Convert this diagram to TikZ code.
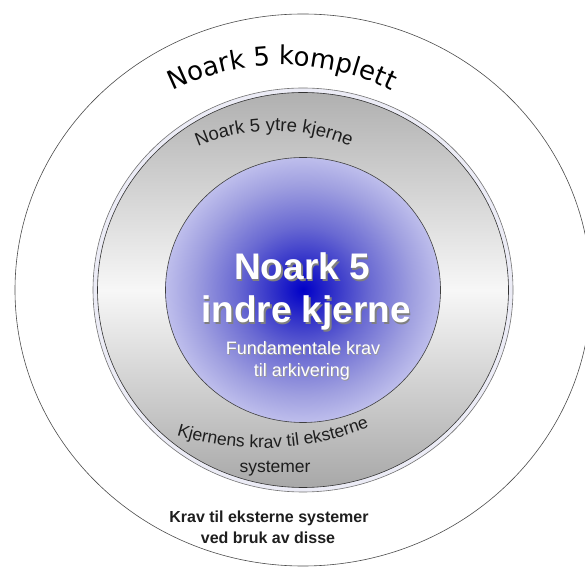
\documentclass[tikz,border=0pt]{standalone}
\usepackage{fontspec}
\setmainfont{Liberation Sans}
\newfontfamily\komfont{DejaVu Sans}
\usetikzlibrary{decorations.text}
\definecolor{bc0}{RGB}{0,0,200}
\definecolor{bc1}{RGB}{45,45,200}
\definecolor{bc2}{RGB}{105,105,210}
\definecolor{bc3}{RGB}{160,160,224}
\definecolor{bc4}{RGB}{190,190,236}
\definecolor{bandcol}{RGB}{236,236,246}
\definecolor{ringtop}{RGB}{176,176,176}
\definecolor{ringmid}{RGB}{247,247,247}
\definecolor{ringbot}{RGB}{168,168,168}
\definecolor{darktxt}{RGB}{30,30,30}
\pgfdeclareradialshading{bluecore}{\pgfpoint{0bp}{0bp}}{color(0bp)=(bc0); color(5bp)=(bc1); color(12bp)=(bc2); color(20bp)=(bc3); color(25bp)=(bc4); color(50bp)=(bc4)}
\tikzset{
  thinline/.style={draw=black!70, line width=0.6pt},
  bigtxt/.style={font=\bfseries\fontsize{37pt}{40pt}\selectfont, text=white, anchor=base, inner sep=0pt},
  bigshadow/.style={bigtxt, text=black!50},
  smalltxt/.style={font=\fontsize{18pt}{20pt}\selectfont, text=white, anchor=base, inner sep=0pt},
  smallshadow/.style={smalltxt, text=black!40},
  ringtxt/.style={font=\fontsize{17.5pt}{20pt}\selectfont, text=darktxt, anchor=base, inner sep=0pt},
  boldtxt/.style={font=\bfseries\fontsize{16pt}{18pt}\selectfont, text=darktxt, anchor=base, inner sep=0pt}
}
\begin{document}
\begin{tikzpicture}[x=1pt,y=1pt]
\fill[white] (0,0) rectangle (585,567);
\useasboundingbox (0,0) rectangle (585,567);
\coordinate (c) at (303,277);
% outer circle
\draw[thinline] (c) ellipse [x radius=288pt, y radius=276pt];
% gray ring with light band
\filldraw[fill=bandcol, draw=black!55, line width=0.6pt] (c) ellipse [x radius=210pt, y radius=202pt];
\shadedraw[top color=ringtop, bottom color=ringbot, middle color=ringmid, draw=black!80, line width=0.6pt] (c) ellipse [x radius=205.5pt, y radius=197.5pt];
% blue core
\shadedraw[shading=bluecore, draw=black!75, line width=0.6pt] (c) ellipse [x radius=137.5pt, y radius=132.5pt];
% curved texts
\path[decorate, decoration={text along path, text align=center, text color=black,
  text={|\komfont\fontsize{26pt}{30pt}\selectfont|Noark 5 komplett}}]
  (282,255) ++(140:247pt) arc[start angle=140, end angle=40, radius=247pt];
\path[decorate, decoration={text along path, text align=center, text color=darktxt,
  text={|\fontsize{18.5pt}{20pt}\selectfont|Noark 5 ytre kjerne}}]
  (274,242) ++(145:194pt) arc[start angle=145, end angle=35, radius=194pt];
\path[decorate, decoration={text along path, text align=center, text color=darktxt,
  text={|\fontsize{17.5pt}{20pt}\selectfont|Kjernens krav til eksterne}}]
  (262,407) ++(242:288pt) arc[start angle=242, end angle=302.6, radius=288pt];
\node[ringtxt] (sys) at (275,95) {systemer};
% core texts
\node[bigshadow] (n1s) at (303.6,285.4) {Noark 5};
\node[bigtxt] (n1) at (302,287) {Noark 5};
\node[bigshadow] (n2s) at (307.6,242.4) {indre kjerne};
\node[bigtxt] (n2) at (306,244) {indre kjerne};
\node[smallshadow] (f1s) at (303.8,211.2) {Fundamentale krav};
\node[smalltxt] (f1) at (303,212) {Fundamentale krav};
\node[smallshadow] (f2s) at (302.8,189.2) {til arkivering};
\node[smalltxt] (f2) at (302,190) {til arkivering};
% bottom bold text
\node[boldtxt] (b1) at (269,45) {Krav til eksterne systemer};
\node[boldtxt] (b2) at (268,24) {ved bruk av disse};
\end{tikzpicture}
\end{document}
